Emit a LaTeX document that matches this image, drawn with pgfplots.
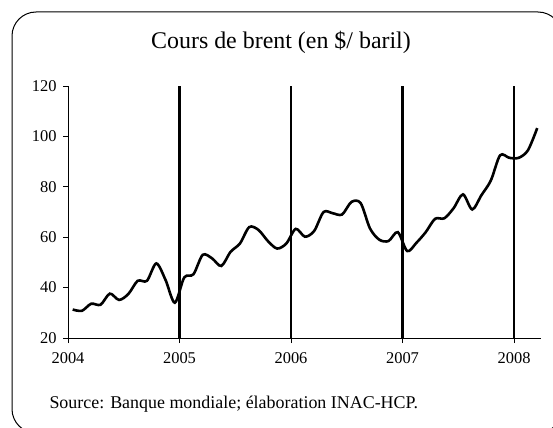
\documentclass[border=0pt]{standalone}
\usepackage{pgfplots}
\pgfplotsset{compat=1.18}
\usepackage{fontspec}
\setmainfont{Liberation Serif}
\newcommand\tickfont{\fontsize{16.5}{18}\selectfont}
\pgfplotstableread{
x y
2004.042 31.3
2004.125 30.8
2004.208 33.6
2004.292 33.2
2004.375 37.6
2004.458 35.1
2004.542 37.5
2004.625 42.7
2004.708 42.7
2004.792 49.6
2004.875 43.0
2004.958 34.0
2005.042 44.0
2005.125 45.3
2005.208 53.0
2005.292 51.6
2005.375 48.6
2005.458 54.2
2005.542 57.5
2005.625 64.0
2005.708 62.9
2005.792 58.5
2005.875 55.5
2005.958 57.5
2006.042 63.3
2006.125 60.2
2006.208 62.5
2006.292 70.0
2006.375 69.5
2006.458 69.0
2006.542 74.0
2006.625 73.5
2006.708 63.5
2006.792 59.0
2006.875 58.5
2006.958 62.0
2007.042 54.5
2007.125 57.8
2007.208 62.0
2007.292 67.3
2007.375 67.5
2007.458 71.5
2007.542 77.0
2007.625 71.0
2007.708 76.7
2007.792 82.5
2007.875 92.5
2007.958 91.5
2008.042 91.5
2008.125 94.5
2008.208 103.3
}\brent
\begin{document}
\begin{tikzpicture}[x=1bp,y=1bp]
\useasboundingbox (0,0) rectangle (553,427);
\draw[line width=1bp, rounded corners=24bp] (12,-6) rectangle (562,415);
\node[font=\fontsize{24}{28}\selectfont] at (281,385) {Cours de brent (en \$/ baril)};
\node[anchor=base west, font=\fontsize{18}{21}\selectfont] at (46,19) {Source: Banque mondiale; élaboration INAC-HCP.};
\begin{axis}[
  at={(68bp,89bp)}, anchor=south west, scale only axis,
  width=473bp, height=252bp,
  xmin=2004, xmax=2008.242, ymin=20, ymax=120,
  axis x line*=bottom, axis y line*=left,
  axis line style={-, line width=0.8bp},
  xtick={2004,2005,2006,2007,2008},
  xticklabels={2004,2005,2006,2007,2008},
  ytick={20,40,60,80,100,120},
  yticklabels={20,40,60,80,100,120},
  tick align=outside, major tick length=5bp,
  tick style={black, line width=0.8bp},
  every tick label/.append style={font=\tickfont},
  x tick label style={yshift=-6bp},
  y tick label style={xshift=-3bp},
  clip=false,
]
\addplot[black, line width=2.5bp] coordinates {(2005,20) (2005,120)};
\addplot[black, line width=2.5bp] coordinates {(2006,20) (2006,120)};
\addplot[black, line width=2.5bp] coordinates {(2007,20) (2007,120)};
\addplot[black, line width=2.5bp] coordinates {(2008,20) (2008,120)};
\addplot[black, line width=2.6bp, smooth, tension=0.5] table {\brent};
\end{axis}
\end{tikzpicture}
\end{document}
